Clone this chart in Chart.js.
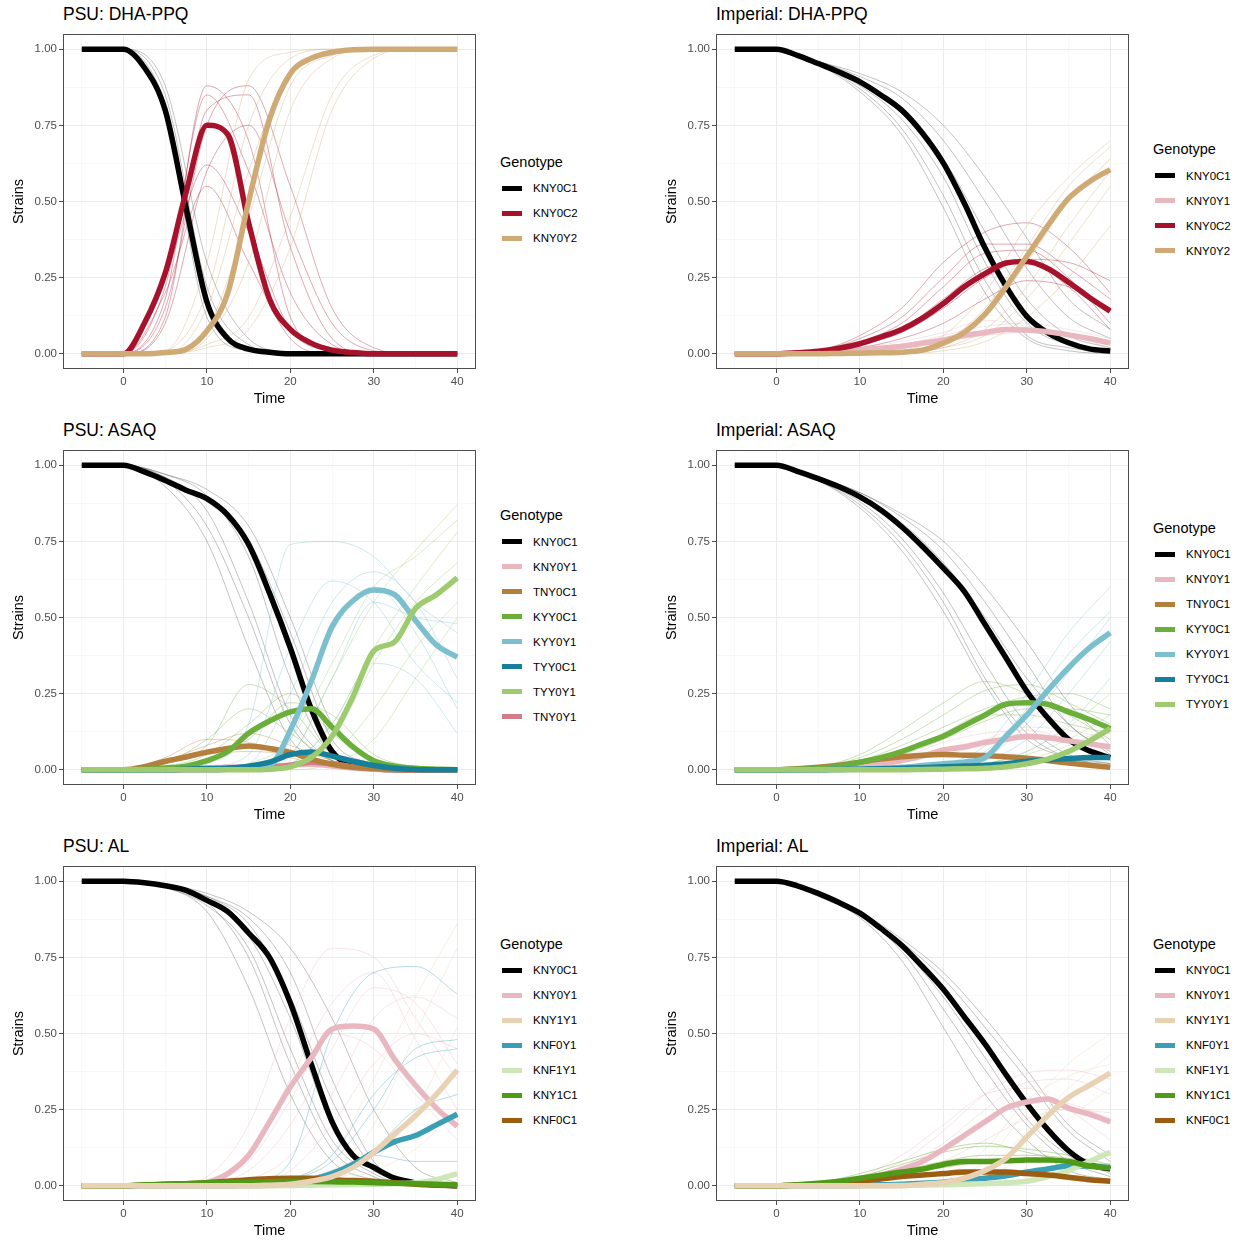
<!DOCTYPE html>
<html>
<head>
<meta charset="utf-8">
<script src="https://cdn.jsdelivr.net/npm/chart.js@4.4.1/dist/chart.umd.min.js"></script>
<style>
  body { margin:0; background:#fff; font-family:"Liberation Sans", Arial, sans-serif; }
  #page { position:relative; width:1244px; height:1241px; overflow:hidden; }
  .panel { position:absolute; width:622px; height:416px; }
  .panel canvas { position:absolute; left:0; top:0; }
  .ptitle { position:absolute; left:63px; top:4px; font-size:17.5px; color:#000; white-space:nowrap; }
  .legend { position:absolute; left:500px; color:#000; }
  .legend .lt { height:27px; line-height:27px; font-size:14.5px; }
  .legend .li { height:25px; display:flex; align-items:center; font-size:11.5px; }
  .legend .key { width:20px; height:5px; margin:0 11px 0 2px; }
</style>
</head>
<body>
<div id="page"></div>
<script>
// ---- time axes ----
const times    = [-5,-2.5,0,2.5,5,7.5,10,12.5,15,17.5,20,22.5,25,27.5,30,32.5,35,37.5,40];
const repTimes = [-5,0,5,10,15,20,25,30,35,40];
const xGrid = [-5,0,5,10,15,20,25,30,35,40];
const xLabels = [0,10,20,30,40];
const yGrid = [0,0.125,0.25,0.375,0.5,0.625,0.75,0.875,1];
const yLabels = [0,0.25,0.5,0.75,1];

// ---- colours ----
const colors = {
  KNY0C1:'#000000', KNY0C2:'#A6122B', KNY0Y2:'#CFAA74', KNY0Y1:'#E8B7BF',
  TNY0C1:'#B47E3C', KYY0C1:'#6BAF3B', KYY0Y1:'#7CC0D0', TYY0C1:'#167F99',
  TYY0Y1:'#9ECB70', TNY0Y1:'#D27C8A', KNY1Y1:'#E9D2B4', KNF0Y1:'#3A9FB5',
  KNF1Y1:'#CEE7B8', KNY1C1:'#4F9A16', KNF0C1:'#9B5D12'
};

// ============ PSU: DHA-PPQ ============
const psuDha_KNY0C1 = [1,1,1,0.94,0.80,0.48,0.17,0.05,0.015,0.005,0,0,0,0,0,0,0,0,0];
const psuDha_KNY0C2 = [0,0,0,0.10,0.265,0.53,0.75,0.72,0.43,0.18,0.08,0.035,0.012,0.004,0,0,0,0,0];
const psuDha_KNY0Y2 = [0,0,0,0,0.004,0.015,0.075,0.20,0.50,0.77,0.92,0.97,0.99,0.998,1,1,1,1,1];
const psuDhaReps_KNY0C1 = [
  [1,1,0.85,0.22,0.03,0,0,0,0,0],
  [1,1,0.78,0.12,0.01,0,0,0,0,0],
  [1,1,0.88,0.30,0.05,0.005,0,0,0,0],
  [1,1,0.82,0.18,0.02,0,0,0,0,0]
];
const psuDhaReps_KNY0C2 = [
  [0,0,0.18,0.88,0.70,0.12,0.01,0,0,0],
  [0,0,0.12,0.80,0.85,0.35,0.05,0,0,0],
  [0,0,0.25,0.62,0.40,0.08,0.01,0,0,0],
  [0,0,0.20,0.55,0.30,0.05,0,0,0,0],
  [0,0,0.15,0.75,0.88,0.55,0.15,0.02,0,0],
  [0,0,0.22,0.85,0.60,0.20,0.03,0,0,0],
  [0,0,0.10,0.60,0.75,0.40,0.10,0.01,0,0]
];
const psuDhaReps_KNY0Y2 = [
  [0,0,0,0.05,0.30,0.80,0.97,1,1,1],
  [0,0,0,0.15,0.60,0.93,0.99,1,1,1],
  [0,0,0.01,0.30,0.90,0.99,1,1,1,1],
  [0,0,0,0.03,0.12,0.45,0.85,0.98,1,1],
  [0,0,0,0.02,0.08,0.35,0.80,0.97,1,1],
  [0,0,0,0.08,0.45,0.88,0.98,1,1,1],
  [0,0,0.01,0.20,0.75,0.97,1,1,1,1]
];

// ============ Imperial: DHA-PPQ ============
const impDha_KNY0C1 = [1,1,1,0.98,0.953,0.925,0.893,0.85,0.80,0.724,0.626,0.495,0.347,0.222,0.123,0.069,0.036,0.016,0.009];
const impDha_KNY0Y1 = [0,0,0,0.002,0.005,0.008,0.012,0.018,0.025,0.035,0.045,0.06,0.07,0.08,0.078,0.072,0.062,0.05,0.035];
const impDha_KNY0C2 = [0,0,0,0.003,0.008,0.018,0.033,0.055,0.08,0.117,0.165,0.22,0.263,0.298,0.303,0.28,0.235,0.185,0.14];
const impDha_KNY0Y2 = [0,0,0,0,0,0.001,0.002,0.003,0.005,0.012,0.035,0.07,0.13,0.22,0.32,0.42,0.51,0.565,0.605];
const impDhaReps_KNY0C1 = [
  [1,1,0.95,0.88,0.77,0.58,0.30,0.10,0.03,0.01],
  [1,1,0.96,0.91,0.84,0.70,0.50,0.28,0.12,0.05],
  [1,1,0.95,0.87,0.74,0.52,0.24,0.06,0.02,0.005],
  [1,1,0.96,0.92,0.86,0.75,0.58,0.38,0.18,0.08],
  [1,1,0.95,0.89,0.80,0.64,0.40,0.18,0.06,0.02],
  [1,1,0.95,0.86,0.72,0.48,0.20,0.05,0.01,0]
];
const impDhaReps_KNY0Y1 = [
  [0,0,0,0.01,0.03,0.06,0.09,0.10,0.08,0.05],
  [0,0,0,0.01,0.02,0.04,0.06,0.07,0.06,0.04],
  [0,0,0,0.02,0.04,0.07,0.11,0.09,0.06,0.02]
];
const impDhaReps_KNY0C2 = [
  [0,0,0.01,0.05,0.12,0.25,0.36,0.36,0.28,0.18],
  [0,0,0.005,0.03,0.07,0.15,0.25,0.31,0.30,0.24],
  [0,0,0.01,0.06,0.15,0.30,0.40,0.43,0.35,0.20],
  [0,0,0.005,0.02,0.05,0.10,0.18,0.24,0.22,0.15],
  [0,0,0.01,0.04,0.10,0.22,0.33,0.34,0.25,0.10],
  [0,0,0.005,0.03,0.08,0.18,0.28,0.30,0.22,0.08]
];
const impDhaReps_KNY0Y2 = [
  [0,0,0,0,0.01,0.04,0.15,0.35,0.55,0.68],
  [0,0,0,0,0.005,0.02,0.08,0.22,0.42,0.60],
  [0,0,0,0,0.01,0.06,0.20,0.42,0.58,0.70],
  [0,0,0,0,0,0.01,0.04,0.12,0.25,0.42],
  [0,0,0,0,0.01,0.03,0.12,0.30,0.50,0.64],
  [0,0,0,0,0.005,0.02,0.06,0.18,0.36,0.55]
];

// ============ PSU: ASAQ ============
const psuAsaq_KNY0C1 = [1,1,1,0.978,0.95,0.918,0.89,0.836,0.74,0.58,0.40,0.20,0.06,0.013,0.003,0,0,0,0];
const psuAsaq_KNY0Y1 = [0,0,0,0,0.002,0.004,0.006,0.008,0.01,0.012,0.015,0.018,0.012,0.006,0.002,0,0,0,0];
const psuAsaq_TNY0C1 = [0,0,0,0.01,0.028,0.042,0.058,0.07,0.078,0.07,0.057,0.035,0.018,0.008,0.004,0.001,0,0,0];
const psuAsaq_KYY0C1 = [0,0,0,0.002,0.006,0.012,0.03,0.06,0.12,0.16,0.19,0.20,0.14,0.075,0.03,0.012,0.005,0.002,0];
const psuAsaq_KYY0Y1 = [0,0,0,0,0,0,0,0.002,0.004,0.012,0.13,0.29,0.47,0.555,0.59,0.575,0.49,0.41,0.37];
const psuAsaq_TYY0C1 = [0,0,0,0,0,0.002,0.004,0.006,0.012,0.025,0.05,0.058,0.045,0.028,0.014,0.005,0.001,0,0];
const psuAsaq_TYY0Y1 = [0,0,0,0,0,0,0,0,0,0.002,0.01,0.04,0.11,0.24,0.39,0.42,0.53,0.575,0.63];
const psuAsaq_TNY0Y1 = [0,0,0,0,0,0,0,0.002,0.004,0.008,0.015,0.025,0.02,0.01,0.004,0.001,0,0,0];
const psuAsaqReps_KNY0C1 = [
  [1,1,0.97,0.90,0.70,0.30,0.05,0.01,0,0],
  [1,1,0.96,0.85,0.55,0.18,0.03,0,0,0],
  [1,1,0.93,0.75,0.40,0.10,0.02,0,0,0],
  [1,1,0.97,0.92,0.80,0.50,0.15,0.03,0,0],
  [1,1,0.96,0.88,0.75,0.45,0.10,0.02,0,0],
  [1,1,0.95,0.80,0.50,0.15,0.03,0.01,0,0]
];
const psuAsaqReps_TNY0C1 = [
  [0,0,0.03,0.08,0.12,0.08,0.03,0.01,0,0],
  [0,0,0.02,0.05,0.06,0.05,0.02,0,0,0],
  [0,0,0.04,0.10,0.09,0.04,0.01,0,0,0]
];
const psuAsaqReps_KYY0C1 = [
  [0,0,0.01,0.05,0.15,0.25,0.12,0.03,0,0],
  [0,0,0.02,0.08,0.28,0.20,0.05,0.01,0,0],
  [0,0,0.01,0.03,0.10,0.22,0.18,0.05,0.01,0],
  [0,0,0.02,0.10,0.20,0.12,0.03,0,0,0]
];
const psuAsaqReps_KYY0Y1 = [
  [0,0,0,0.02,0.15,0.74,0.75,0.70,0.55,0.45],
  [0,0,0,0,0.02,0.25,0.55,0.65,0.55,0.30],
  [0,0,0,0,0.01,0.10,0.45,0.60,0.45,0.20],
  [0,0,0,0.01,0.05,0.40,0.62,0.55,0.35,0.22],
  [0,0,0,0,0.01,0.05,0.30,0.55,0.50,0.48],
  [0,0,0,0,0,0.02,0.15,0.35,0.30,0.12]
];
const psuAsaqReps_TYY0Y1 = [
  [0,0,0,0,0.01,0.05,0.30,0.55,0.72,0.87],
  [0,0,0,0,0,0.02,0.15,0.40,0.60,0.78],
  [0,0,0,0,0.02,0.10,0.35,0.60,0.70,0.82],
  [0,0,0,0,0,0.01,0.05,0.20,0.40,0.55],
  [0,0,0,0,0,0.02,0.10,0.35,0.55,0.68],
  [0,0,0,0,0,0,0.02,0.10,0.30,0.50]
];

// ============ Imperial: ASAQ ============
const impAsaq_KNY0C1 = [1,1,1,0.98,0.956,0.929,0.896,0.853,0.798,0.733,0.662,0.586,0.477,0.368,0.258,0.171,0.10,0.062,0.04];
const impAsaq_KNY0Y1 = [0,0,0,0.001,0.003,0.006,0.01,0.018,0.03,0.045,0.065,0.075,0.09,0.10,0.11,0.105,0.095,0.085,0.075];
const impAsaq_TNY0C1 = [0,0,0,0.003,0.008,0.015,0.025,0.035,0.043,0.048,0.05,0.048,0.047,0.043,0.038,0.03,0.022,0.015,0.008];
const impAsaq_KYY0C1 = [0,0,0,0.002,0.005,0.012,0.025,0.04,0.06,0.085,0.11,0.145,0.18,0.215,0.22,0.215,0.19,0.165,0.135];
const impAsaq_KYY0Y1 = [0,0,0,0,0,0.001,0.002,0.004,0.008,0.014,0.02,0.025,0.04,0.11,0.18,0.26,0.335,0.40,0.45];
const impAsaq_TYY0C1 = [0,0,0,0,0,0.001,0.002,0.003,0.005,0.007,0.01,0.012,0.015,0.02,0.028,0.033,0.037,0.04,0.04];
const impAsaq_TYY0Y1 = [0,0,0,0,0,0,0,0,0,0.001,0.002,0.003,0.005,0.01,0.02,0.035,0.06,0.095,0.135];
const impAsaqReps_KNY0C1 = [
  [1,1,0.95,0.88,0.76,0.58,0.35,0.15,0.05,0.02],
  [1,1,0.96,0.91,0.83,0.72,0.55,0.35,0.15,0.06],
  [1,1,0.95,0.86,0.72,0.52,0.28,0.10,0.04,0.01],
  [1,1,0.96,0.90,0.81,0.68,0.50,0.30,0.15,0.05],
  [1,1,0.96,0.91,0.84,0.75,0.60,0.42,0.22,0.08],
  [1,1,0.95,0.87,0.74,0.55,0.30,0.12,0.04,0.02]
];
const impAsaqReps_KNY0Y1 = [
  [0,0,0,0.01,0.04,0.07,0.10,0.14,0.13,0.10],
  [0,0,0,0.01,0.03,0.05,0.08,0.10,0.10,0.08],
  [0,0,0,0.01,0.04,0.09,0.12,0.13,0.10,0.06]
];
const impAsaqReps_KYY0C1 = [
  [0,0,0.01,0.04,0.10,0.18,0.26,0.28,0.22,0.15],
  [0,0,0.01,0.05,0.13,0.22,0.29,0.25,0.18,0.10],
  [0,0,0.005,0.02,0.05,0.10,0.16,0.20,0.20,0.18],
  [0,0,0.01,0.03,0.08,0.14,0.20,0.24,0.25,0.20],
  [0,0,0.005,0.02,0.06,0.12,0.18,0.18,0.15,0.12]
];
const impAsaqReps_KYY0Y1 = [
  [0,0,0,0,0.01,0.02,0.08,0.25,0.45,0.60],
  [0,0,0,0,0,0.01,0.04,0.15,0.32,0.50],
  [0,0,0,0,0,0.01,0.03,0.10,0.25,0.42],
  [0,0,0,0,0,0.02,0.06,0.20,0.38,0.52],
  [0,0,0,0,0,0,0.02,0.06,0.15,0.30]
];
const impAsaqReps_TYY0Y1 = [
  [0,0,0,0,0,0.005,0.02,0.05,0.10,0.18],
  [0,0,0,0,0,0,0.01,0.03,0.08,0.14],
  [0,0,0,0,0,0.01,0.02,0.06,0.14,0.25]
];

// ============ PSU: AL ============
const psuAl_KNY0C1 = [1,1,1,0.995,0.985,0.97,0.937,0.90,0.83,0.75,0.60,0.40,0.21,0.10,0.06,0.025,0.01,0.003,0];
const psuAl_KNY0Y1 = [0,0,0,0,0,0.003,0.01,0.04,0.10,0.21,0.325,0.42,0.515,0.525,0.515,0.415,0.33,0.255,0.195];
const psuAl_KNY1Y1 = [0,0,0,0,0,0,0,0,0,0.002,0.005,0.015,0.03,0.06,0.11,0.17,0.23,0.30,0.38];
const psuAl_KNF0Y1 = [0,0,0,0,0,0,0,0,0.001,0.002,0.005,0.02,0.04,0.07,0.11,0.145,0.165,0.20,0.235];
const psuAl_KNF1Y1 = [0,0,0,0,0,0,0,0,0,0,0.001,0.002,0.003,0.004,0.005,0.007,0.01,0.02,0.04];
const psuAl_KNY1C1 = [0,0,0,0.003,0.005,0.007,0.01,0.011,0.012,0.013,0.015,0.014,0.013,0.012,0.01,0.008,0.007,0.005,0.003];
const psuAl_KNF0C1 = [0,0,0,0.002,0.005,0.007,0.01,0.015,0.02,0.023,0.025,0.025,0.02,0.017,0.015,0.01,0.005,0.002,0];
const psuAlReps_KNY0C1 = [
  [1,1,0.98,0.93,0.75,0.40,0.12,0.03,0,0],
  [1,1,0.99,0.95,0.88,0.70,0.35,0.08,0.01,0],
  [1,1,0.98,0.90,0.65,0.30,0.08,0.02,0,0],
  [1,1,0.99,0.96,0.90,0.78,0.55,0.25,0.06,0.01],
  [1,1,0.98,0.94,0.82,0.55,0.20,0.05,0.01,0],
  [1,1,0.99,0.95,0.86,0.62,0.28,0.06,0.01,0],
  [1,1,0.98,0.92,0.78,0.45,0.15,0.04,0,0]
];
const psuAlReps_KNY0Y1 = [
  [0,0,0,0.03,0.20,0.55,0.78,0.75,0.55,0.35],
  [0,0,0,0.01,0.05,0.20,0.45,0.65,0.60,0.40],
  [0,0,0,0.02,0.10,0.35,0.60,0.70,0.48,0.25],
  [0,0,0,0,0.02,0.10,0.30,0.55,0.62,0.55],
  [0,0,0,0.01,0.08,0.28,0.50,0.45,0.30,0.15],
  [0,0,0,0,0.01,0.05,0.20,0.40,0.50,0.45]
];
const psuAlReps_KNY1Y1 = [
  [0,0,0,0,0,0.02,0.10,0.35,0.62,0.86],
  [0,0,0,0,0,0.01,0.05,0.20,0.50,0.78],
  [0,0,0,0,0,0,0.02,0.08,0.25,0.52],
  [0,0,0,0,0,0,0.01,0.05,0.12,0.25]
];
const psuAlReps_KNF0Y1 = [
  [0,0,0,0,0.01,0.08,0.50,0.70,0.72,0.63],
  [0,0,0,0,0,0.02,0.08,0.25,0.45,0.48],
  [0,0,0,0,0,0.01,0.04,0.12,0.25,0.30],
  [0,0,0,0,0,0.01,0.05,0.10,0.08,0.08],
  [0,0,0,0,0,0.02,0.10,0.30,0.42,0.45]
];

// ============ Imperial: AL ============
const impAl_KNY0C1 = [1,1,1,0.985,0.96,0.93,0.895,0.845,0.79,0.72,0.645,0.555,0.465,0.365,0.27,0.185,0.115,0.07,0.055];
const impAl_KNY0Y1 = [0,0,0,0.002,0.005,0.01,0.02,0.035,0.055,0.08,0.12,0.165,0.21,0.255,0.275,0.285,0.255,0.235,0.21];
const impAl_KNY1Y1 = [0,0,0,0,0,0,0,0,0,0.005,0.01,0.025,0.05,0.09,0.16,0.23,0.29,0.33,0.37];
const impAl_KNF0Y1 = [0,0,0,0,0,0,0.001,0.003,0.005,0.008,0.012,0.018,0.025,0.033,0.045,0.055,0.065,0.065,0.06];
const impAl_KNF1Y1 = [0,0,0,0,0,0,0,0,0.001,0.002,0.003,0.005,0.007,0.01,0.015,0.03,0.05,0.08,0.11];
const impAl_KNY1C1 = [0,0,0,0.003,0.008,0.015,0.025,0.035,0.045,0.055,0.07,0.08,0.08,0.082,0.085,0.085,0.08,0.065,0.058];
const impAl_KNF0C1 = [0,0,0,0.002,0.005,0.01,0.015,0.022,0.03,0.035,0.04,0.045,0.045,0.045,0.04,0.035,0.028,0.02,0.015];
const impAlReps_KNY0C1 = [
  [1,1,0.96,0.89,0.78,0.62,0.42,0.22,0.10,0.04],
  [1,1,0.96,0.90,0.80,0.68,0.52,0.35,0.18,0.08],
  [1,1,0.95,0.88,0.74,0.52,0.30,0.15,0.05,0.02],
  [1,1,0.96,0.90,0.81,0.70,0.55,0.38,0.20,0.10],
  [1,1,0.96,0.89,0.79,0.64,0.46,0.28,0.12,0.05],
  [1,1,0.96,0.89,0.77,0.58,0.38,0.20,0.08,0.03]
];
const impAlReps_KNY0Y1 = [
  [0,0,0,0.03,0.08,0.18,0.30,0.37,0.38,0.35],
  [0,0,0,0.02,0.05,0.12,0.22,0.28,0.27,0.22],
  [0,0,0,0.01,0.03,0.08,0.15,0.22,0.25,0.24],
  [0,0,0,0.03,0.10,0.20,0.30,0.32,0.25,0.15],
  [0,0,0,0.02,0.06,0.14,0.25,0.34,0.35,0.30]
];
const impAlReps_KNY1Y1 = [
  [0,0,0,0,0,0.02,0.08,0.25,0.40,0.50],
  [0,0,0,0,0,0.01,0.05,0.18,0.32,0.43],
  [0,0,0,0,0,0.005,0.03,0.10,0.22,0.32],
  [0,0,0,0,0.01,0.03,0.12,0.28,0.36,0.40]
];
const impAlReps_KNY1C1 = [
  [0,0,0.01,0.03,0.07,0.11,0.13,0.12,0.10,0.07],
  [0,0,0.01,0.02,0.05,0.08,0.10,0.10,0.09,0.06],
  [0,0,0.01,0.04,0.08,0.12,0.14,0.11,0.08,0.05],
  [0,0,0,0.02,0.04,0.06,0.08,0.09,0.08,0.07]
];

// ---- panels: [genotype, mean, replicates] in legend order ----
const panels = [
  { title:'PSU: DHA-PPQ', col:0, row:0, series:[
      ['KNY0C1', psuDha_KNY0C1, psuDhaReps_KNY0C1],
      ['KNY0C2', psuDha_KNY0C2, psuDhaReps_KNY0C2],
      ['KNY0Y2', psuDha_KNY0Y2, psuDhaReps_KNY0Y2]] },
  { title:'Imperial: DHA-PPQ', col:1, row:0, series:[
      ['KNY0C1', impDha_KNY0C1, impDhaReps_KNY0C1],
      ['KNY0Y1', impDha_KNY0Y1, impDhaReps_KNY0Y1],
      ['KNY0C2', impDha_KNY0C2, impDhaReps_KNY0C2],
      ['KNY0Y2', impDha_KNY0Y2, impDhaReps_KNY0Y2]] },
  { title:'PSU: ASAQ', col:0, row:1, series:[
      ['KNY0C1', psuAsaq_KNY0C1, psuAsaqReps_KNY0C1],
      ['KNY0Y1', psuAsaq_KNY0Y1, []],
      ['TNY0C1', psuAsaq_TNY0C1, psuAsaqReps_TNY0C1],
      ['KYY0C1', psuAsaq_KYY0C1, psuAsaqReps_KYY0C1],
      ['KYY0Y1', psuAsaq_KYY0Y1, psuAsaqReps_KYY0Y1],
      ['TYY0C1', psuAsaq_TYY0C1, []],
      ['TYY0Y1', psuAsaq_TYY0Y1, psuAsaqReps_TYY0Y1],
      ['TNY0Y1', psuAsaq_TNY0Y1, []]],
    drawOrder:['KNY0C1','KNY0Y1','TNY0Y1','TNY0C1','KYY0C1','KYY0Y1','TYY0C1','TYY0Y1'] },
  { title:'Imperial: ASAQ', col:1, row:1, series:[
      ['KNY0C1', impAsaq_KNY0C1, impAsaqReps_KNY0C1],
      ['KNY0Y1', impAsaq_KNY0Y1, impAsaqReps_KNY0Y1],
      ['TNY0C1', impAsaq_TNY0C1, []],
      ['KYY0C1', impAsaq_KYY0C1, impAsaqReps_KYY0C1],
      ['KYY0Y1', impAsaq_KYY0Y1, impAsaqReps_KYY0Y1],
      ['TYY0C1', impAsaq_TYY0C1, []],
      ['TYY0Y1', impAsaq_TYY0Y1, impAsaqReps_TYY0Y1]] },
  { title:'PSU: AL', col:0, row:2, series:[
      ['KNY0C1', psuAl_KNY0C1, psuAlReps_KNY0C1],
      ['KNY0Y1', psuAl_KNY0Y1, psuAlReps_KNY0Y1],
      ['KNY1Y1', psuAl_KNY1Y1, psuAlReps_KNY1Y1],
      ['KNF0Y1', psuAl_KNF0Y1, psuAlReps_KNF0Y1],
      ['KNF1Y1', psuAl_KNF1Y1, []],
      ['KNY1C1', psuAl_KNY1C1, []],
      ['KNF0C1', psuAl_KNF0C1, []]],
    drawOrder:['KNY0C1','KNY0Y1','KNF0Y1','KNF1Y1','KNF0C1','KNY1C1','KNY1Y1'] },
  { title:'Imperial: AL', col:1, row:2, series:[
      ['KNY0C1', impAl_KNY0C1, impAlReps_KNY0C1],
      ['KNY0Y1', impAl_KNY0Y1, impAlReps_KNY0Y1],
      ['KNY1Y1', impAl_KNY1Y1, impAlReps_KNY1Y1],
      ['KNF0Y1', impAl_KNF0Y1, []],
      ['KNF1Y1', impAl_KNF1Y1, []],
      ['KNY1C1', impAl_KNY1C1, impAlReps_KNY1C1],
      ['KNF0C1', impAl_KNF0C1, []]],
    drawOrder:['KNY0C1','KNY0Y1','KNF0Y1','KNF1Y1','KNF0C1','KNY1C1','KNY1Y1'] }
];

function rgba(hex, a) {
  const n = parseInt(hex.slice(1), 16);
  return `rgba(${n >> 16},${(n >> 8) & 255},${n & 255},${a})`;
}
const pts = (xs, ys) => ys.map((v, i) => ({ x: xs[i], y: v }));

// panel border drawn on top, like ggplot's theme_bw
const frame = {
  id: 'frame',
  afterDraw(c) {
    const a = c.chartArea, ctx = c.ctx;
    ctx.save();
    ctx.strokeStyle = '#4d4d4d'; ctx.lineWidth = 1;
    ctx.strokeRect(Math.round(a.left) + 0.5, Math.round(a.top) + 0.5, Math.round(a.width) - 1, Math.round(a.height) - 1);
    ctx.restore();
  }
};

const page = document.getElementById('page');
const FONT = '"Liberation Sans", Arial, sans-serif';

panels.forEach(p => {
  const div = document.createElement('div');
  div.className = 'panel';
  div.style.left = (p.col * 653) + 'px';
  div.style.top = (p.row * 416) + 'px';
  page.appendChild(div);

  const t = document.createElement('div');
  t.className = 'ptitle'; t.textContent = p.title;
  div.appendChild(t);

  const cv = document.createElement('canvas');
  cv.width = 490; cv.height = 410;
  div.appendChild(cv);

  const datasets = [];
  // replicates behind
  p.series.forEach(([name, , reps]) => {
    const isBlack = name === 'KNY0C1';
    reps.forEach(r => datasets.push({
      data: pts(repTimes, r), borderColor: rgba(colors[name], isBlack ? 0.24 : 0.36),
      borderWidth: 1, pointRadius: 0, cubicInterpolationMode: 'monotone'
    }));
  });
  // thick mean lines
  const order = p.drawOrder || p.series.map(s => s[0]);
  order.forEach(name => {
    const s = p.series.find(q => q[0] === name);
    datasets.push({
      label: name, data: pts(times, s[1]), borderColor: colors[name],
      borderWidth: 5.5, pointRadius: 0, cubicInterpolationMode: 'monotone',
      borderJoinStyle: 'round'
    });
  });
  datasets.forEach((d, i) => { d.order = datasets.length - i; d.fill = false; });

  const chart = new Chart(cv.getContext('2d'), {
    type: 'line',
    data: { datasets },
    options: {
      responsive: false, animation: false, events: [],
      layout: { padding: { top: 34, right: 14, left: 0, bottom: 0 } },
      plugins: { legend: { display: false }, tooltip: { enabled: false } },
      scales: {
        x: {
          type: 'linear', min: -7.25, max: 42.25,
          afterBuildTicks: s => { s.ticks = xGrid.map(v => ({ value: v })); },
          afterFit: s => { s.height = 41; },
          ticks: { autoSkip: false, maxRotation: 0, padding: 2, color: '#4d4d4d',
                   font: { family: FONT, size: 11.5 },
                   callback: v => xLabels.includes(v) ? String(v) : '' },
          grid: {
            color: c => xLabels.includes(c.tick && c.tick.value) ? '#ebebeb' : '#f4f4f4',
            lineWidth: c => xLabels.includes(c.tick && c.tick.value) ? 1 : 0.6,
            tickColor: c => xLabels.includes(c.tick && c.tick.value) ? '#4d4d4d' : 'rgba(0,0,0,0)',
            tickLength: 4, tickWidth: 1
          },
          border: { display: false },
          title: { display: true, text: 'Time', color: '#000', font: { family: FONT, size: 14.5 },
                   padding: { top: 0, bottom: 2 } }
        },
        y: {
          type: 'linear', min: -0.05, max: 1.05,
          afterBuildTicks: s => { s.ticks = yGrid.map(v => ({ value: v })); },
          afterFit: s => { s.width = 63; },
          ticks: { autoSkip: false, padding: 2, color: '#4d4d4d',
                   font: { family: FONT, size: 11.5 },
                   callback: v => yLabels.includes(v) ? v.toFixed(2) : '' },
          grid: {
            color: c => yLabels.includes(c.tick && c.tick.value) ? '#ebebeb' : '#f4f4f4',
            lineWidth: c => yLabels.includes(c.tick && c.tick.value) ? 1 : 0.6,
            tickColor: c => yLabels.includes(c.tick && c.tick.value) ? '#4d4d4d' : 'rgba(0,0,0,0)',
            tickLength: 4, tickWidth: 1
          },
          border: { display: false },
          title: { display: true, text: 'Strains', color: '#000', font: { family: FONT, size: 14.5 },
                   padding: { top: 10, bottom: 0 } }
        }
      }
    },
    plugins: [frame]
  });

  // legend, vertically centred on the plot area
  const a = chart.chartArea;
  const n = p.series.length;
  const mid = (a.top + a.bottom) / 2;
  const firstItem = mid - (27 + (n - 1) * 25) / 2 + 25;
  const lg = document.createElement('div');
  lg.className = 'legend';
  lg.style.top = (firstItem - 12.5 - 27) + 'px';
  lg.innerHTML = '<div class="lt">Genotype</div>' + p.series.map(s =>
    `<div class="li"><span class="key" style="background:${colors[s[0]]}"></span>${s[0]}</div>`).join('');
  div.appendChild(lg);
});
</script>
</body>
</html>
